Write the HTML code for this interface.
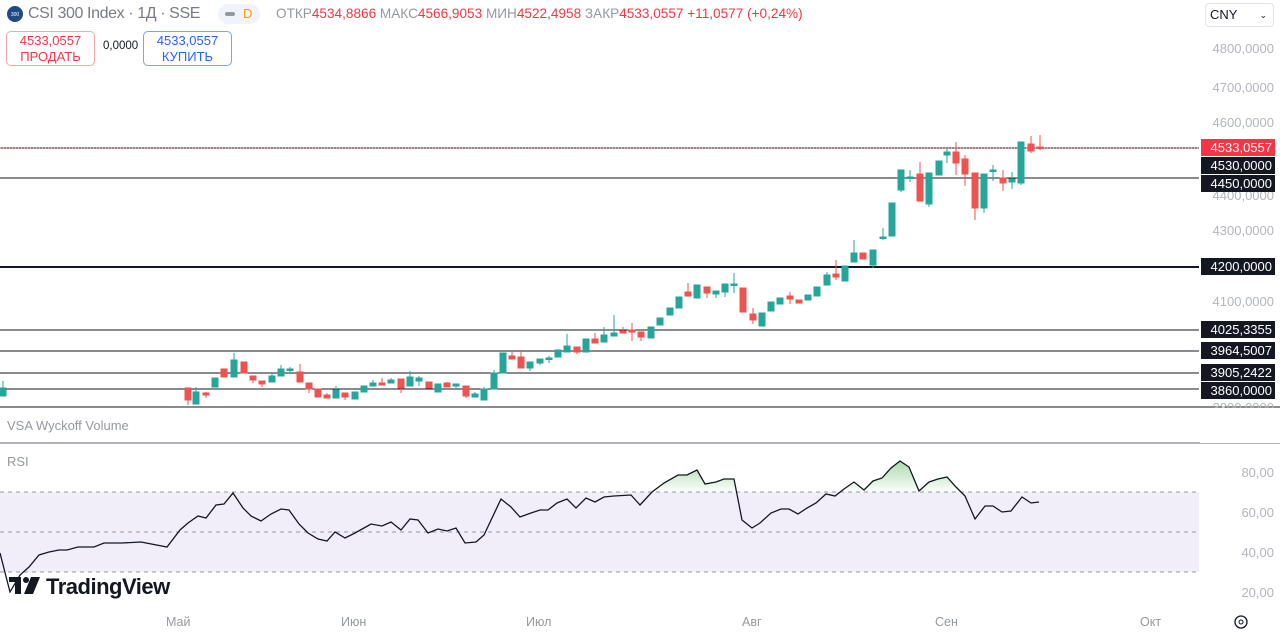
<!DOCTYPE html>
<html><head><meta charset="utf-8"><style>
body{margin:0;width:1280px;height:636px;background:#fff;overflow:hidden;font-family:"Liberation Sans",sans-serif;position:relative}
.a{position:absolute;white-space:nowrap}
.pl{position:absolute;right:6px;font-size:13px;color:#b2b5be;text-align:right}
.bx{position:absolute;left:1201px;width:74px;height:17px;background:#131722;color:#fff;font-size:13px;line-height:17px;text-align:right;box-sizing:border-box;padding-right:3px}
.tl{position:absolute;top:615px;font-size:12.5px;color:#9598a1}
</style></head><body>
<svg class="a" style="left:0;top:0" width="1280" height="636">
<defs>
<linearGradient id="g" x1="0" y1="455" x2="0" y2="492" gradientUnits="userSpaceOnUse"><stop offset="0" stop-color="#4caf50" stop-opacity="0.55"/><stop offset="1" stop-color="#4caf50" stop-opacity="0.02"/></linearGradient>
<clipPath id="c"><rect x="0" y="440" width="1199" height="52"/></clipPath>
</defs>
<line x1="0" y1="148" x2="1199" y2="148" stroke="#131722" stroke-width="1"/>
<line x1="0" y1="148" x2="1199" y2="148" stroke="#ef5350" stroke-dasharray="1 2"/>
<g stroke="#131722">
<line x1="0" y1="178" x2="1199" y2="178"/>
<line x1="0" y1="267" x2="1199" y2="267" stroke-width="2"/>
<line x1="0" y1="330" x2="1199" y2="330"/>
<line x1="0" y1="351" x2="1199" y2="351"/>
<line x1="0" y1="373" x2="1199" y2="373"/>
<line x1="0" y1="389" x2="1199" y2="389"/>
<line x1="0" y1="407" x2="1280" y2="407"/>
</g>
<line x1="0" y1="443" x2="1280" y2="443" stroke="#9598a1" stroke-width="1.5"/>
<g id="cd">
<g stroke="#26a69a" fill="#26a69a">
<line x1="3" y1="381" x2="3" y2="396"/><rect x="0" y="388" width="6" height="8"/>
<line x1="196" y1="387" x2="196" y2="404"/><rect x="193" y="392" width="6" height="12"/>
<line x1="215" y1="378" x2="215" y2="387"/><rect x="212" y="378" width="6" height="9"/>
<line x1="234" y1="353" x2="234" y2="377"/><rect x="231" y="360" width="6" height="17"/>
<line x1="272" y1="372" x2="272" y2="382"/><rect x="269" y="376" width="6" height="6"/>
<line x1="281" y1="365" x2="281" y2="376"/><rect x="278" y="369" width="6" height="7"/>
<line x1="290" y1="367" x2="290" y2="374"/><rect x="287" y="369" width="6" height="1.5"/>
<line x1="336" y1="386" x2="336" y2="398"/><rect x="333" y="390" width="6" height="8"/>
<line x1="355" y1="392" x2="355" y2="399"/><rect x="352" y="392" width="6" height="7"/>
<line x1="364" y1="386" x2="364" y2="392"/><rect x="361" y="386" width="6" height="6"/>
<line x1="373" y1="380" x2="373" y2="386"/><rect x="370" y="383" width="6" height="3"/>
<line x1="391" y1="378" x2="391" y2="383"/><rect x="388" y="380" width="6" height="3"/>
<line x1="410" y1="371" x2="410" y2="386"/><rect x="407" y="377" width="6" height="9"/>
<line x1="419" y1="376" x2="419" y2="386"/><rect x="416" y="378" width="6" height="3"/>
<line x1="438" y1="384" x2="438" y2="392"/><rect x="435" y="384" width="6" height="8"/>
<line x1="456" y1="384" x2="456" y2="389"/><rect x="453" y="384" width="6" height="2"/>
<line x1="475" y1="392" x2="475" y2="397"/><rect x="472" y="394" width="6" height="3"/>
<line x1="484" y1="387" x2="484" y2="400"/><rect x="481" y="389" width="6" height="11"/>
<line x1="494" y1="370" x2="494" y2="389"/><rect x="491" y="373" width="6" height="16"/>
<line x1="503" y1="353" x2="503" y2="373"/><rect x="500" y="353" width="6" height="20"/>
<line x1="530" y1="362" x2="530" y2="371"/><rect x="527" y="362" width="6" height="6"/>
<line x1="540" y1="359" x2="540" y2="365"/><rect x="537" y="359" width="6" height="4"/>
<line x1="549" y1="356" x2="549" y2="363"/><rect x="546" y="358" width="6" height="1.5"/>
<line x1="558" y1="350" x2="558" y2="357"/><rect x="555" y="350" width="6" height="7"/>
<line x1="567" y1="334" x2="567" y2="352"/><rect x="564" y="346" width="6" height="6"/>
<line x1="586" y1="339" x2="586" y2="352"/><rect x="583" y="339" width="6" height="13"/>
<line x1="604" y1="327" x2="604" y2="342"/><rect x="601" y="335" width="6" height="7"/>
<line x1="614" y1="315" x2="614" y2="336"/><rect x="611" y="333" width="6" height="3"/>
<line x1="651" y1="327" x2="651" y2="338"/><rect x="648" y="327" width="6" height="11"/>
<line x1="660" y1="318" x2="660" y2="325"/><rect x="657" y="318" width="6" height="7"/>
<line x1="670" y1="308" x2="670" y2="315"/><rect x="667" y="308" width="6" height="7"/>
<line x1="679" y1="297" x2="679" y2="308"/><rect x="676" y="297" width="6" height="11"/>
<line x1="697" y1="285" x2="697" y2="298"/><rect x="694" y="285" width="6" height="13"/>
<line x1="716" y1="291" x2="716" y2="298"/><rect x="713" y="291" width="6" height="3"/>
<line x1="725" y1="284" x2="725" y2="297"/><rect x="722" y="284" width="6" height="8"/>
<line x1="734" y1="273" x2="734" y2="293"/><rect x="731" y="284" width="6" height="1.5"/>
<line x1="762" y1="313" x2="762" y2="326"/><rect x="759" y="313" width="6" height="13"/>
<line x1="771" y1="302" x2="771" y2="311"/><rect x="768" y="302" width="6" height="9"/>
<line x1="780" y1="298" x2="780" y2="304"/><rect x="777" y="298" width="6" height="6"/>
<line x1="808" y1="295" x2="808" y2="300"/><rect x="805" y="295" width="6" height="5"/>
<line x1="817" y1="287" x2="817" y2="296"/><rect x="814" y="287" width="6" height="9"/>
<line x1="827" y1="272" x2="827" y2="285"/><rect x="824" y="275" width="6" height="10"/>
<line x1="845" y1="266" x2="845" y2="281"/><rect x="842" y="266" width="6" height="15"/>
<line x1="854" y1="240" x2="854" y2="262"/><rect x="851" y="253" width="6" height="9"/>
<line x1="873" y1="250" x2="873" y2="268"/><rect x="870" y="250" width="6" height="15"/>
<line x1="883" y1="228" x2="883" y2="240"/><rect x="880" y="237" width="6" height="1.5"/>
<line x1="892" y1="203" x2="892" y2="236"/><rect x="889" y="203" width="6" height="33"/>
<line x1="901" y1="170" x2="901" y2="192"/><rect x="898" y="170" width="6" height="20"/>
<line x1="910" y1="170" x2="910" y2="182"/><rect x="907" y="177" width="6" height="1.5"/>
<line x1="929" y1="173" x2="929" y2="207"/><rect x="926" y="173" width="6" height="31"/>
<line x1="939" y1="161" x2="939" y2="175"/><rect x="936" y="161" width="6" height="14"/>
<line x1="947" y1="149" x2="947" y2="163"/><rect x="944" y="152" width="6" height="3"/>
<line x1="984" y1="174" x2="984" y2="213"/><rect x="981" y="174" width="6" height="34"/>
<line x1="993" y1="165" x2="993" y2="181"/><rect x="990" y="170" width="6" height="1.5"/>
<line x1="1012" y1="172" x2="1012" y2="189"/><rect x="1009" y="179" width="6" height="3"/>
<line x1="1021" y1="142" x2="1021" y2="185"/><rect x="1018" y="142" width="6" height="41"/>
</g>
<g stroke="#ef5350" fill="#ef5350">
<line x1="188" y1="388" x2="188" y2="405"/><rect x="185" y="388" width="6" height="12"/>
<line x1="206" y1="392" x2="206" y2="398"/><rect x="203" y="393" width="6" height="2"/>
<line x1="224" y1="369" x2="224" y2="377"/><rect x="221" y="369" width="6" height="8"/>
<line x1="244" y1="362" x2="244" y2="373"/><rect x="241" y="362" width="6" height="11"/>
<line x1="253" y1="376" x2="253" y2="383"/><rect x="250" y="376" width="6" height="4"/>
<line x1="262" y1="381" x2="262" y2="387"/><rect x="259" y="381" width="6" height="3"/>
<line x1="300" y1="364" x2="300" y2="382"/><rect x="297" y="372" width="6" height="10"/>
<line x1="309" y1="383" x2="309" y2="393"/><rect x="306" y="383" width="6" height="6"/>
<line x1="318" y1="389" x2="318" y2="397"/><rect x="315" y="389" width="6" height="8"/>
<line x1="327" y1="393" x2="327" y2="398"/><rect x="324" y="395" width="6" height="3"/>
<line x1="345" y1="393" x2="345" y2="400"/><rect x="342" y="393" width="6" height="4"/>
<line x1="382" y1="378" x2="382" y2="385"/><rect x="379" y="383" width="6" height="2"/>
<line x1="401" y1="379" x2="401" y2="393"/><rect x="398" y="379" width="6" height="9"/>
<line x1="429" y1="382" x2="429" y2="388"/><rect x="426" y="382" width="6" height="6"/>
<line x1="447" y1="382" x2="447" y2="387"/><rect x="444" y="383" width="6" height="4"/>
<line x1="466" y1="386" x2="466" y2="398"/><rect x="463" y="386" width="6" height="10"/>
<line x1="512" y1="352" x2="512" y2="359"/><rect x="509" y="356" width="6" height="3"/>
<line x1="521" y1="350" x2="521" y2="368"/><rect x="518" y="357" width="6" height="11"/>
<line x1="577" y1="347" x2="577" y2="354"/><rect x="574" y="347" width="6" height="5"/>
<line x1="595" y1="333" x2="595" y2="343"/><rect x="592" y="339" width="6" height="4"/>
<line x1="623" y1="327" x2="623" y2="333"/><rect x="620" y="331" width="6" height="2"/>
<line x1="632" y1="323" x2="632" y2="341"/><rect x="629" y="330" width="6" height="2"/>
<line x1="641" y1="332" x2="641" y2="341"/><rect x="638" y="332" width="6" height="5"/>
<line x1="688" y1="283" x2="688" y2="296"/><rect x="685" y="292" width="6" height="4"/>
<line x1="707" y1="287" x2="707" y2="298"/><rect x="704" y="287" width="6" height="6"/>
<line x1="743" y1="288" x2="743" y2="312"/><rect x="740" y="288" width="6" height="24"/>
<line x1="753" y1="308" x2="753" y2="324"/><rect x="750" y="314" width="6" height="6"/>
<line x1="790" y1="292" x2="790" y2="304"/><rect x="787" y="296" width="6" height="3"/>
<line x1="799" y1="300" x2="799" y2="303"/><rect x="796" y="300" width="6" height="3"/>
<line x1="836" y1="260" x2="836" y2="280"/><rect x="833" y="274" width="6" height="3"/>
<line x1="863" y1="253" x2="863" y2="259"/><rect x="860" y="253" width="6" height="6"/>
<line x1="920" y1="162" x2="920" y2="201"/><rect x="917" y="174" width="6" height="27"/>
<line x1="956" y1="142" x2="956" y2="175"/><rect x="953" y="152" width="6" height="11"/>
<line x1="965" y1="155" x2="965" y2="186"/><rect x="962" y="159" width="6" height="15"/>
<line x1="975" y1="173" x2="975" y2="220"/><rect x="972" y="173" width="6" height="35"/>
<line x1="1003" y1="170" x2="1003" y2="191"/><rect x="1000" y="178" width="6" height="5"/>
<line x1="1031" y1="136" x2="1031" y2="153"/><rect x="1028" y="144" width="6" height="7"/>
<line x1="1040" y1="135" x2="1040" y2="150"/><rect x="1037" y="147" width="6" height="1.5"/>
</g>
</g>
<rect x="0" y="492" width="1199" height="80" fill="#7e57c2" fill-opacity="0.1"/>
<g stroke="#9598a1" stroke-dasharray="4 4"><line x1="0" y1="492" x2="1199" y2="492"/><line x1="0" y1="532" x2="1199" y2="532"/><line x1="0" y1="572" x2="1199" y2="572"/></g>
<path clip-path="url(#c)" fill="url(#g)" d="M631,495 L640,505 L652,492 L664,483 L678,475 L687,475 L697,470 L705,484 L716,482 L724,479 L734,479 L742,520 L742,492 Z M835,496 L844,489 L854,482 L864,490 L873,481 L882,478 L891,468 L900,461 L909,467 L919,491 L929,482 L938,479 L947,477 L956,487 L965,496 L965,492 L835,492 Z"/>
<polyline fill="none" stroke="#131722" stroke-width="1.3" points="0,553 10,592 20,575 29,567 39,555 49,552 59,550 67,550 78,547 94,547 104,543 122,543 141,542 167,547 180,530 188,523 198,516 206,518 216,505 224,504 233,493 243,508 251,516 261,521 271,514 281,509 289,510 299,524 308,533 318,539 327,541 335,532 345,538 355,533 364,528 371,524 382,526 391,522 401,530 410,519 418,520 428,533 438,529 447,531 456,528 465,543 476,542 484,535 501,499 511,507 520,517 531,513 540,510 548,510 557,503 567,499 576,508 586,498 595,502 604,497 614,496 631,495 640,505 652,492 664,483 678,475 687,475 697,470 705,484 716,482 724,479 734,479 742,520 752,528 760,523 771,513 781,509 789,509 798,514 807,508 816,503 826,494 835,496 844,489 854,482 864,490 873,481 882,478 891,468 900,461 909,467 919,491 929,482 938,479 947,477 956,487 965,496 975,519 985,506 993,506 1002,512 1011,511 1022,497 1031,503 1039,502"/>
<g fill="#131722"><rect x="9" y="577" width="12" height="5"/><rect x="15" y="577" width="6" height="17"/><circle cx="26" cy="580" r="3"/><polygon points="31,577 40,577 33,594 24,594"/></g>
<text x="46" y="594" font-family="Liberation Sans" font-weight="bold" font-size="22" fill="#131722" letter-spacing="-0.5">TradingView</text>
<circle cx="15" cy="14" r="8" fill="#1e4a85"/><text x="15" y="16" font-size="5" fill="#fff" text-anchor="middle">300</text>
<rect x="218" y="4" width="42" height="20" rx="10" fill="#f0f3fa"/><rect x="225" y="12" width="10" height="4" rx="2" fill="#9598a1"/>
<circle cx="1241" cy="622" r="6" fill="none" stroke="#131722" stroke-width="1.3"/><circle cx="1241" cy="622" r="2" fill="none" stroke="#131722"/>
</svg>
<div class="a" style="left:28px;top:5px;font-size:16px;color:#787b86;letter-spacing:-0.4px">CSI 300 Index · 1Д · SSE</div>
<div class="a" style="left:243px;top:6px;font-size:13px;color:#ff9800">D</div>
<div class="a" style="left:276px;top:6px;font-size:13.6px;color:#9598a1">ОТКР<span style="color:#f23645">4534,8866</span> МАКС<span style="color:#f23645">4566,9053</span> МИН<span style="color:#f23645">4522,4958</span> ЗАКР<span style="color:#f23645">4533,0557</span> <span style="color:#f23645">+11,0577 (+0,24%)</span></div>
<div class="a" style="left:6px;top:31px;width:89px;height:35px;border:1px solid #f7a5ab;border-radius:5px;background:#fff;text-align:center;color:#f23645;font-size:13px;line-height:16px;padding-top:1px;box-sizing:border-box">4533,0557<br>ПРОДАТЬ</div>
<div class="a" style="left:103px;top:40px;font-size:11.5px;color:#131722">0,0000</div>
<div class="a" style="left:143px;top:31px;width:89px;height:35px;border:1px solid #7ea2f7;border-radius:5px;background:#fff;text-align:center;color:#2962ff;font-size:13px;line-height:16px;padding-top:1px;box-sizing:border-box">4533,0557<br>КУПИТЬ</div>
<div class="a" style="left:1205px;top:3px;width:69px;height:24px;border:1px solid #e0e3eb;border-radius:4px;box-sizing:border-box;font-size:13px;line-height:22px;padding-left:4px;color:#131722">CNY<span style="position:absolute;right:6px;font-size:9px">⌄</span></div>
<div class="pl" style="top:41px">4800,0000</div>
<div class="pl" style="top:80px">4700,0000</div>
<div class="pl" style="top:115px">4600,0000</div>
<div class="pl" style="top:188px">4400,0000</div>
<div class="pl" style="top:223px">4300,0000</div>
<div class="pl" style="top:294px">4100,0000</div>
<div class="pl" style="top:400px">3800,0000</div>
<div class="bx" style="top:139px;background:#f23645">4533,0557</div>
<div class="bx" style="top:157px">4530,0000</div>
<div class="bx" style="top:175px">4450,0000</div>
<div class="bx" style="top:258px">4200,0000</div>
<div class="bx" style="top:321px">4025,3355</div>
<div class="bx" style="top:342px">3964,5007</div>
<div class="bx" style="top:364px">3905,2422</div>
<div class="bx" style="top:382px">3860,0000</div>
<div class="a" style="left:1200px;top:408px;width:80px;height:35px;background:#fff"></div>
<div class="a" style="left:7px;top:418px;font-size:13px;color:#9598a1">VSA Wyckoff Volume</div>
<div class="a" style="left:7px;top:454px;font-size:13px;color:#9598a1">RSI</div>
<div class="pl" style="top:465px">80,00</div>
<div class="pl" style="top:505px">60,00</div>
<div class="pl" style="top:545px">40,00</div>
<div class="pl" style="top:585px">20,00</div>
<div class="tl" style="left:166px">Май</div>
<div class="tl" style="left:341px">Июн</div>
<div class="tl" style="left:526px">Июл</div>
<div class="tl" style="left:742px">Авг</div>
<div class="tl" style="left:935px">Сен</div>
<div class="tl" style="left:1140px">Окт</div>
</body></html>
